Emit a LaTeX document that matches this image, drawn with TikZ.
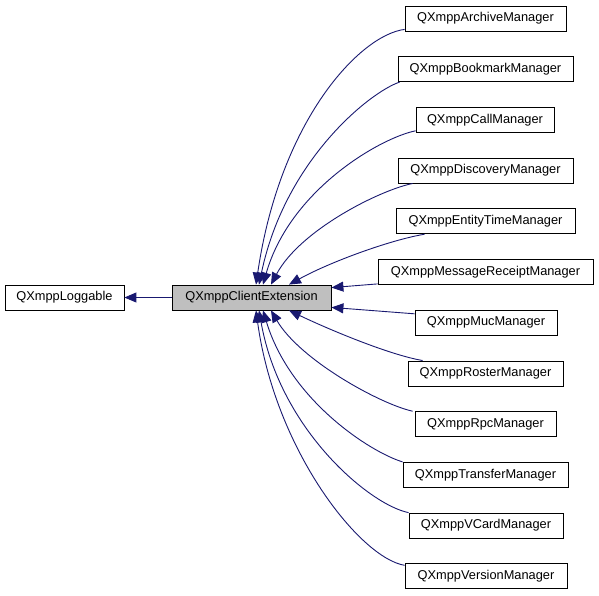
\documentclass[tikz,border=0pt]{standalone}
\usepackage{fontspec}
\setmainfont{Liberation Sans}
\usepackage{tikz}
\usepackage{xcolor}
\usetikzlibrary{arrows.meta}
\definecolor{midnight}{HTML}{191970}
\definecolor{parentgray}{HTML}{BFBFBF}

\begin{document}
\begin{tikzpicture}[x=1pt, y=-1pt,
  cls/.style={draw, line width=0.8pt, minimum height=25pt, inner sep=0pt, font=\fontsize{12.8}{15}\selectfont},
  inh/.style={draw=midnight, line width=0.9pt, -{Triangle[length=12pt,width=10pt]}, midnight}]
\useasboundingbox (0,0) rectangle (599,595);

\node[cls, minimum width=119pt] (logg) at (64.5,297.5) {QXmppLoggable};
\node[cls, minimum width=159pt, fill=parentgray] (ext) at (251.5,297.5) {QXmppClientExtension};

\node[cls, minimum width=161pt] (arc) at (485.5,18.5) {QXmppArchiveManager};
\node[cls, minimum width=175pt] (bmk) at (485.5,69.2) {QXmppBookmarkManager};
\node[cls, minimum width=138pt] (call) at (485,119.9) {QXmppCallManager};
\node[cls, minimum width=175pt] (disc) at (485.5,170.6) {QXmppDiscoveryManager};
\node[cls, minimum width=179pt] (ent) at (485.5,221.3) {QXmppEntityTimeManager};
\node[cls, minimum width=215pt] (msg) at (485.5,272) {QXmppMessageReceiptManager};
\node[cls, minimum width=142pt] (muc) at (486,322.7) {QXmppMucManager};
\node[cls, minimum width=155pt] (ros) at (485.5,373.4) {QXmppRosterManager};
\node[cls, minimum width=141pt] (rpc) at (485.5,424.1) {QXmppRpcManager};
\node[cls, minimum width=165pt] (tra) at (485.5,474.8) {QXmppTransferManager};
\node[cls, minimum width=154pt] (vcd) at (486,525.5) {QXmppVCardManager};
\node[cls, minimum width=162pt] (ver) at (486,576.2) {QXmppVersionManager};

\draw[inh] (ext) -- (logg);

\draw[inh] ([yshift=2pt]arc.south west) .. controls (360,35) and (280,120) .. ([xshift=4.5pt]ext.north);
\draw[inh] ([xshift=2pt]bmk.south west) .. controls (370,92) and (285,160) .. ([xshift=7.5pt]ext.north);
\draw[inh] ([yshift=2pt]call.south west) .. controls (380,138) and (290,190) .. ([xshift=11.5pt]ext.north);
\draw[inh] ([xshift=15pt]disc.south west) .. controls (380,190) and (300,230) .. ([xshift=19.5pt]ext.north);
\draw[inh] ([xshift=29pt]ent.south west) .. controls (390,240) and (330,262) .. ([xshift=37.5pt]ext.north);
\draw[inh] ([yshift=1pt]msg.south west) -- ([yshift=-3pt]ext.north east);
\draw[inh] ([yshift=-4pt]muc.north west) -- ([yshift=3pt]ext.south east);
\draw[inh] ([xshift=15pt]ros.north west) .. controls (390,355) and (330,330) .. ([xshift=37.5pt]ext.south);
\draw[inh] ([xshift=-2pt]rpc.north west) .. controls (380,404) and (300,360) .. ([xshift=19.5pt]ext.south);
\draw[inh] (tra.north west) .. controls (370,452) and (290,400) .. ([xshift=11.5pt]ext.south);
\draw[inh] (vcd.north west) .. controls (370,505) and (280,430) .. ([xshift=7.5pt]ext.south);
\draw[inh] ([yshift=-2pt]ver.north west) .. controls (360,558) and (275,450) .. ([xshift=4.5pt]ext.south);
\end{tikzpicture}
\end{document}
